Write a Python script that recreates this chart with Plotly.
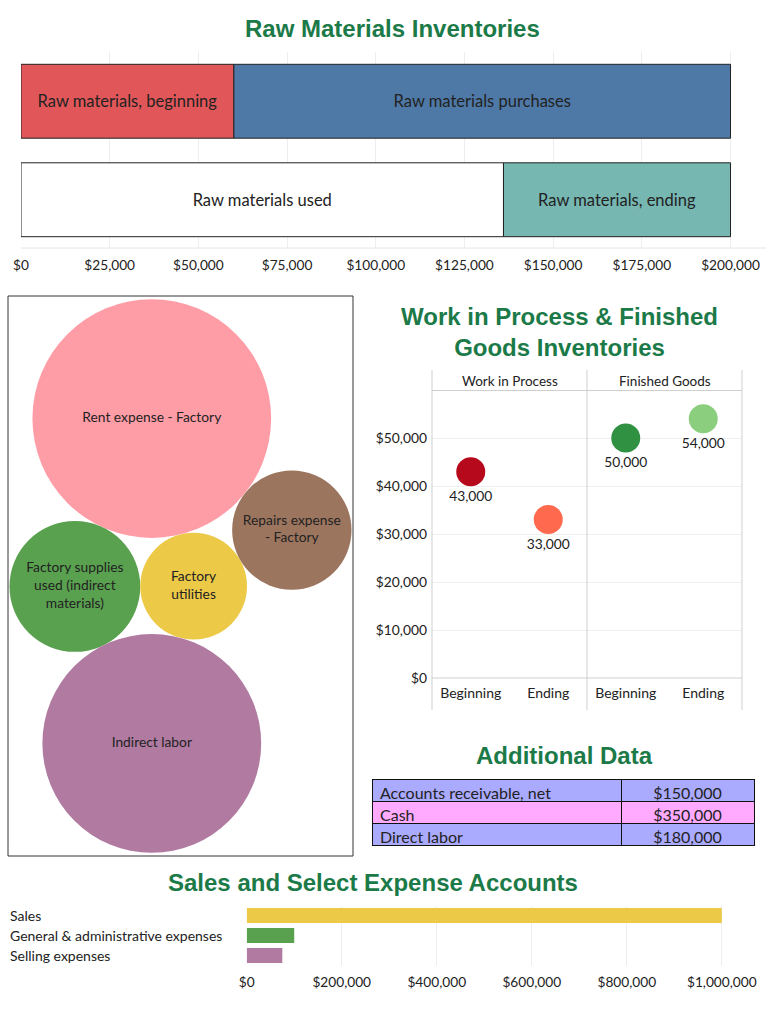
import math
import plotly.graph_objects as go

W, H = 768, 1024


def fx(x):
    return x / W


def fy(y):
    return 1 - y / H


TITLE_COLOR = "#1b7a47"
FONT = "Lato, 'Noto Sans', sans-serif"
TITLE_FONT = "'Liberation Sans', Arial, sans-serif"
TXT = "#222222"

# ---------------- Data ----------------
rm_rows = ["Available", "Disposition"]
rm_labels = [["Raw materials, beginning", "Raw materials purchases"],
             ["Raw materials used", "Raw materials, ending"]]
rm_values = [[60000, 140000], [136000, 64000]]
rm_colors = [["#E15759", "#4E79A7"], ["#FFFFFF", "#76B7B2"]]
rm_ticks = [0, 25000, 50000, 75000, 100000, 125000, 150000, 175000, 200000]

oh_labels = ["Rent expense - Factory",
             "Factory supplies<br>used (indirect<br>materials)",
             "Factory<br>utilities",
             "Indirect labor",
             "Repairs expense<br>- Factory"]
oh_values = [50000, 15000, 10000, 42000, 12500]
oh_colors = ["#FF9DA7", "#59A14F", "#EDC948", "#B07AA1", "#9C755F"]

wf_panels = ["Work in Process", "Finished Goods"]
wf_periods = ["Beginning", "Ending"]
wf_values = [[43000, 33000], [50000, 54000]]
wf_colors = [["#B60A1C", "#FF6A4F"], ["#309143", "#8ACE7E"]]
wf_ticks = [0, 10000, 20000, 30000, 40000, 50000]

ad_labels = ["Accounts receivable, net", "Cash", "Direct labor"]
ad_values = [150000, 350000, 180000]
ad_colors = ["#AAAAFF", "#FFAAFF", "#AAAAFF"]

se_labels = ["Sales", "General & administrative expenses", "Selling expenses"]
se_values = [1000000, 100000, 75000]
se_colors = ["#EDC948", "#59A14F", "#B07AA1"]
se_ticks = [0, 200000, 400000, 600000, 800000, 1000000]


def money(v):
    return "$" + f"{v:,}"


fig = go.Figure()

# ---------------- Raw materials stacked bars ----------------
for i, row in enumerate(rm_rows):
    base = 0
    for j, v in enumerate(rm_values[i]):
        fig.add_trace(go.Bar(
            y=[row], x=[v], base=[base], orientation="h", width=0.75,
            marker=dict(color=rm_colors[i][j], line=dict(color="#222222", width=1)),
            text=[rm_labels[i][j]], textposition="inside", insidetextanchor="middle",
            textangle=0, textfont=dict(family=FONT, size=16.5, color=TXT),
            hoverinfo="skip", xaxis="x", yaxis="y"))
        base += v

# ---------------- Packed bubbles ----------------
radii = [math.sqrt(v) for v in oh_values]


def tangent_options(a, b, r):
    (xa, ya, ra), (xb, yb, rb) = a, b
    dA, dB = ra + r, rb + r
    dx, dy = xb - xa, yb - ya
    d = math.hypot(dx, dy)
    l = (dA ** 2 - dB ** 2 + d ** 2) / (2 * d)
    h = math.sqrt(max(dA ** 2 - l ** 2, 0))
    ux, uy = dx / d, dy / d
    px, py = xa + l * ux, ya + l * uy
    return [(px - h * uy, py + h * ux, r), (px + h * uy, py - h * ux, r)]


def farthest(opts, ref):
    return max(opts, key=lambda c: math.hypot(c[0] - ref[0], c[1] - ref[1]))


rR, rS, rU, rI, rP = radii
Rc = (0.0, 0.0, rR)
Sc = (rR + rS, 0.0, rS)
Uc = tangent_options(Rc, Sc, rU)[0]
Ic = farthest(tangent_options(Sc, Uc, rI), Rc)
theta = math.atan2(Ic[1], Ic[0])
phi = -math.pi / 2 - theta


def rot(c):
    x, y, r = c
    return (x * math.cos(phi) - y * math.sin(phi), x * math.sin(phi) + y * math.cos(phi), r)


Rc, Sc, Uc, Ic = rot(Rc), rot(Sc), rot(Uc), rot(Ic)
if Sc[0] > 0:
    Rc, Sc, Uc, Ic = [(-c[0], c[1], c[2]) for c in (Rc, Sc, Uc, Ic)]
Pc = farthest(tangent_options(Rc, Uc, rP), Sc)
circles = [Rc, Sc, Uc, Ic, Pc]

xmin = min(c[0] - c[2] for c in circles)
xmax = max(c[0] + c[2] for c in circles)
ymin = min(c[1] - c[2] for c in circles)
ymax = max(c[1] + c[2] for c in circles)
box_w, box_h = 345, 560
ppu = min((box_w - 3) / (xmax - xmin), (box_h - 6) / (ymax - ymin))
cxm, cym = (xmin + xmax) / 2, (ymin + ymax) / 2
bx_range = [cxm - box_w / 2 / ppu, cxm + box_w / 2 / ppu]
by_range = [cym - box_h / 2 / ppu, cym + box_h / 2 / ppu]

shapes = []
for c, col in zip(circles, oh_colors):
    shapes.append(dict(type="circle", xref="x2", yref="y2", x0=c[0] - c[2], x1=c[0] + c[2],
                       y0=c[1] - c[2], y1=c[1] + c[2], fillcolor=col, line=dict(width=0),
                       layer="below"))
fig.add_trace(go.Scatter(
    x=[c[0] for c in circles], y=[c[1] for c in circles], mode="text", text=oh_labels,
    textfont=dict(family=FONT, size=13.8, color=TXT), hoverinfo="skip",
    xaxis="x2", yaxis="y2"))

# ---------------- WIP & FG dot panels ----------------
for p, panel in enumerate(wf_panels):
    ax = str(3 + p)
    fig.add_trace(go.Scatter(
        x=wf_periods, y=wf_values[p], mode="markers+text",
        marker=dict(size=29, color=wf_colors[p]),
        text=[f"{v:,}" for v in wf_values[p]], textposition="bottom center",
        textfont=dict(family=FONT, size=13.8, color=TXT), hoverinfo="skip",
        xaxis="x" + ax, yaxis="y" + ax))

# ---------------- Additional data table ----------------
fig.add_trace(go.Table(
    domain=dict(x=[fx(372), fx(754)], y=[fy(846), fy(779)]),
    columnwidth=[249, 133],
    header=dict(values=[ad_labels[0], money(ad_values[0])], fill_color=ad_colors[0],
                line=dict(color="#111111", width=1), align=["left", "center"],
                font=dict(family=FONT, size=16, color=TXT), height=22),
    cells=dict(values=[ad_labels[1:], [money(v) for v in ad_values[1:]]],
               fill_color=[ad_colors[1:], ad_colors[1:]],
               line=dict(color="#111111", width=1), align=["left", "center"],
               font=dict(family=FONT, size=16, color=TXT), height=22)))

# ---------------- Sales & expenses bars ----------------
fig.add_trace(go.Bar(
    y=se_labels, x=se_values, orientation="h", width=0.75,
    marker=dict(color=se_colors, line=dict(width=0)), hoverinfo="skip",
    xaxis="x5", yaxis="y5"))

# ---------------- Lines / frames ----------------
shapes.append(dict(type="rect", xref="paper", yref="paper", x0=fx(8), x1=fx(353),
                   y0=fy(856), y1=fy(296), line=dict(color="#333333", width=1)))
shapes.append(dict(type="line", xref="paper", yref="paper", x0=fx(21), x1=fx(766),
                   y0=fy(248), y1=fy(248), line=dict(color="#E6E6E6", width=1)))
for xv in (432, 587, 742):
    shapes.append(dict(type="line", xref="paper", yref="paper", x0=fx(xv), x1=fx(xv),
                       y0=fy(710), y1=fy(370), line=dict(color="#CFCFCF", width=1)))
for yv in (390.5, 678):
    shapes.append(dict(type="line", xref="paper", yref="paper", x0=fx(432), x1=fx(742),
                       y0=fy(yv), y1=fy(yv), line=dict(color="#CFCFCF", width=1)))

annotations = []


def title(text, x, y):
    annotations.append(dict(text=text, x=fx(x), y=fy(y), xref="paper", yref="paper",
                            xanchor="center", yanchor="middle", showarrow=False,
                            font=dict(family=TITLE_FONT, size=24, color=TITLE_COLOR)))


title("<b>Raw Materials Inventories</b>", 392, 28)
title("<b>Work in Process & Finished<br>Goods Inventories</b>", 559, 332)
title("<b>Additional Data</b>", 564, 755)
title("<b>Sales and Select Expense Accounts</b>", 373, 882)

for p, panel in enumerate(wf_panels):
    annotations.append(dict(text=panel, x=fx(432 + 155 * p + 77.5), y=fy(381), xref="paper",
                            yref="paper", xanchor="center", yanchor="middle", showarrow=False,
                            font=dict(family=FONT, size=13.5, color=TXT)))

for lab in se_labels:
    annotations.append(dict(text=lab, x=fx(8), y=lab, xref="paper", yref="y5",
                            xanchor="left", yanchor="middle", showarrow=False,
                            font=dict(family=FONT, size=14, color=TXT)))

tickfont = dict(family=FONT, size=13.7, color=TXT)
catfont = dict(family=FONT, size=14, color=TXT)

fig.update_layout(
    width=W, height=H, margin=dict(l=0, r=0, t=0, b=0, autoexpand=False),
    paper_bgcolor="white", plot_bgcolor="white", showlegend=False,
    barmode="overlay", shapes=shapes, annotations=annotations,
    xaxis=dict(domain=[fx(21), fx(766)], range=[0, 210000], tickvals=rm_ticks,
               ticktext=[money(v) for v in rm_ticks], showgrid=True, gridcolor="#EEEEEE",
               zeroline=False, showline=False, ticks="", tickfont=tickfont,
               ticklabelstandoff=6),
    yaxis=dict(domain=[fy(249), fy(52)], type="category", range=[1.5, -0.5],
               showticklabels=False, showgrid=False, zeroline=False),
    xaxis2=dict(domain=[fx(8), fx(353)], range=bx_range, visible=False),
    yaxis2=dict(domain=[fy(856), fy(296)], range=by_range, visible=False),
    xaxis3=dict(domain=[fx(432), fx(587)], type="category", range=[-0.5, 1.5], anchor="y3",
                showgrid=False, zeroline=False, ticks="", tickfont=catfont,
                ticklabelstandoff=5),
    yaxis3=dict(domain=[fy(678), fy(391)], anchor="x3", range=[0, 59800], tickvals=wf_ticks,
                ticktext=[money(v) for v in wf_ticks], showgrid=True, gridcolor="#EFEFEF",
                zeroline=False, ticks="", tickfont=dict(family=FONT, size=13.8, color=TXT),
                ticklabelstandoff=4),
    xaxis4=dict(domain=[fx(587), fx(742)], type="category", range=[-0.5, 1.5], anchor="y4",
                showgrid=False, zeroline=False, ticks="", tickfont=catfont,
                ticklabelstandoff=5),
    yaxis4=dict(domain=[fy(678), fy(391)], anchor="x4", range=[0, 59800], tickvals=wf_ticks,
                showticklabels=False, showgrid=True, gridcolor="#EFEFEF", zeroline=False),
    xaxis5=dict(domain=[fx(246.7), fx(766)], range=[0, 1093000], anchor="y5",
                tickvals=se_ticks, ticktext=[money(v) for v in se_ticks], showgrid=True,
                gridcolor="#EEEEEE", zeroline=False, ticks="", tickfont=tickfont,
                ticklabelstandoff=7),
    yaxis5=dict(domain=[fy(965.5), fy(905.5)], anchor="x5", type="category",
                categoryarray=se_labels, range=[2.5, -0.5], showticklabels=False,
                showgrid=False, zeroline=False),
)
fig.update_xaxes(automargin=False, fixedrange=True)
fig.update_yaxes(automargin=False, fixedrange=True)

fig.write_html("out.html")
